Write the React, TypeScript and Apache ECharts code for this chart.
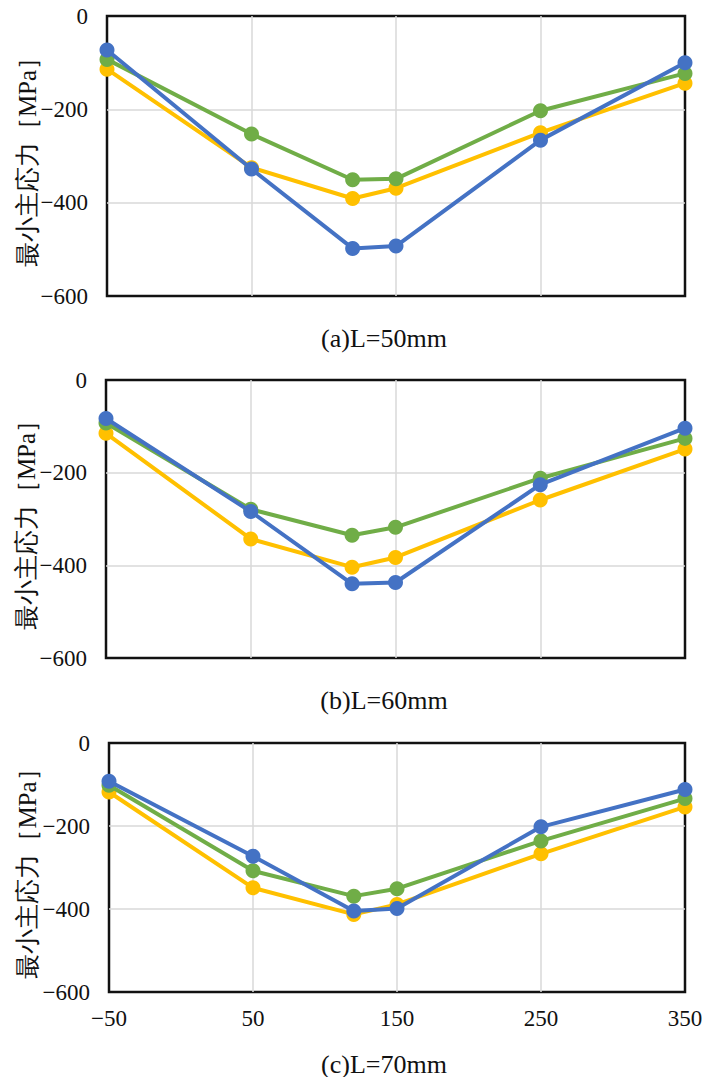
import React, { useEffect, useRef } from "react";
import * as echarts from "echarts";

const xPositions = [-50, 50, 120, 150, 250, 350];
const xTicks = [-50, 50, 150, 250, 350];
const yTicks = [0, -200, -400, -600];

const panelTitles = ["(a)L=50mm", "(b)L=60mm", "(c)L=70mm"];
const yAxisTitle = "最小主応力［MPa］";

// Panel (a) L=50mm
const aOrange = [-114, -325, -391, -369, -250, -144];
const aGreen = [-93, -253, -351, -349, -203, -123];
const aBlue = [-73, -328, -498, -493, -266, -100];

// Panel (b) L=60mm
const bOrange = [-115, -343, -404, -383, -259, -149];
const bGreen = [-93, -279, -335, -318, -212, -126];
const bBlue = [-83, -284, -440, -437, -226, -104];

// Panel (c) L=70mm
const cOrange = [-118, -349, -413, -389, -267, -154];
const cGreen = [-102, -308, -369, -351, -236, -134];
const cBlue = [-92, -273, -405, -399, -202, -112];

const panels = [
  [aOrange, aGreen, aBlue],
  [bOrange, bGreen, bBlue],
  [cOrange, cGreen, cBlue],
];

const seriesColors = ["#FFC000", "#70AD47", "#4472C4"];
const seriesNames = ["系列1", "系列2", "系列3"];

const SERIF = "Liberation Serif";

export default function App() {
  const ref = useRef<HTMLDivElement>(null);

  useEffect(() => {
    if (!ref.current) return;
    const chart = echarts.init(ref.current, null, { renderer: "svg" });

    const grids = [
      { left: 107, top: 16, width: 578, height: 280 },
      { left: 106, top: 380, width: 579, height: 278 },
      { left: 109, top: 743, width: 576, height: 249 },
    ];
    const titleY = [338, 700, 1064];
    const titleX = 384;

    const minusFmt = (v: number) => String(v).replace("-", "−");
    const split = {
      show: true,
      showMinLine: false,
      showMaxLine: false,
      lineStyle: { color: "#d9d9d9", width: 1.5 },
    };

    const option: any = {
      animation: false,
      backgroundColor: "#fff",
      textStyle: { fontFamily: SERIF },
      grid: grids.map((g) => ({
        ...g,
        show: true,
        borderColor: "#111",
        borderWidth: 2.5,
        backgroundColor: "transparent",
        containLabel: false,
      })),
      xAxis: grids.map((g, i) => ({
        type: "value",
        gridIndex: i,
        min: xTicks[0],
        max: xTicks[xTicks.length - 1],
        interval: 100,
        axisLine: { show: false },
        axisTick: { show: false },
        axisLabel: {
          show: i === 2,
          margin: 15,
          fontSize: 23,
          fontFamily: SERIF,
          color: "#111",
          formatter: minusFmt,
        },
        splitLine: split,
      })),
      yAxis: grids.map((g, i) => ({
        type: "value",
        gridIndex: i,
        min: yTicks[yTicks.length - 1],
        max: yTicks[0],
        interval: 200,
        name: yAxisTitle,
        nameLocation: "middle",
        nameGap: i === 2 ? 69 : 67,
        nameMoveOverlap: false,
        nameTextStyle: { fontSize: 25, fontFamily: SERIF, color: "#111" },
        axisLine: { show: false },
        axisTick: { show: false },
        axisLabel: {
          margin: 19,
          fontSize: 23,
          fontFamily: SERIF,
          color: "#111",
          formatter: minusFmt,
        },
        splitLine: split,
      })),
      series: panels.flatMap((panel, pi) =>
        panel.map((vals, si) => ({
          type: "line",
          name: seriesNames[si],
          xAxisIndex: pi,
          yAxisIndex: pi,
          data: xPositions.map((x, k) => [x, vals[k]]),
          symbol: "circle",
          symbolSize: 15,
          clip: false,
          z: 2 + si,
          lineStyle: { color: seriesColors[si], width: 4 },
          itemStyle: { color: seriesColors[si], borderWidth: 0 },
        }))
      ),
      graphic: panelTitles.map((t, i) => ({
        type: "text",
        x: titleX,
        y: titleY[i],
        style: {
          text: t,
          fontSize: 26,
          fontFamily: SERIF,
          fill: "#111",
          align: "center",
          verticalAlign: "middle",
          textAlign: "center",
          textVerticalAlign: "middle",
        },
      })),
    };

    chart.setOption(option);
    return () => chart.dispose();
  }, []);

  return (
    <div
      ref={ref}
      style={{ position: "absolute", left: 0, top: 0, width: 719, height: 1077 }}
    />
  );
}
